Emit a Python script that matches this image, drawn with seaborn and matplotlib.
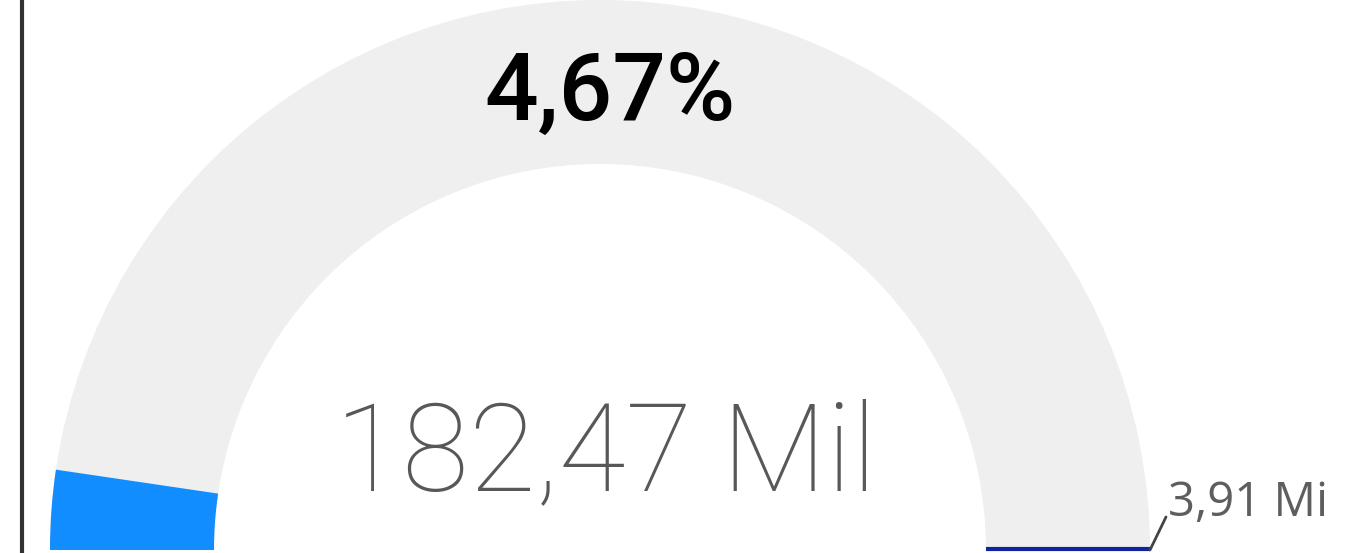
import numpy as np
import matplotlib.pyplot as plt
import seaborn as sns
from matplotlib.patches import Wedge

# Gauge data (value, target, scale)
gauge_min = 0
gauge_max = 3910000
value = 182470
target = 3910000

sns.set_theme(style="white")
plt.rcParams['font.family'] = ['Roboto', 'DejaVu Sans']

def fmt(num, div, suffix):
    return f"{num/div:.2f}".replace('.', ',') + suffix

fig = plt.figure(figsize=(13.54, 5.53), dpi=100)
ax = fig.add_axes([0, 0, 1, 1])
ax.set_xlim(0, 1354)
ax.set_ylim(0, 553)
ax.axis('off')

# gauge geometry in pixels
cx, cy = 600, 3
r_out, r_in = 550, 386

def to_angle(v):
    return 180 - 180 * (v - gauge_min) / (gauge_max - gauge_min)

# background arc and filled value
ax.add_patch(Wedge((cx, cy), r_out, 0, 180, width=r_out - r_in,
                   facecolor='#efefef', edgecolor='none'))
ax.add_patch(Wedge((cx, cy), r_out, to_angle(value), 180, width=r_out - r_in,
                   facecolor='#118dff', edgecolor='none'))

# target marker
t = np.deg2rad(to_angle(target))
ax.plot([cx + r_in * np.cos(t), cx + r_out * np.cos(t)],
        [cy + 1 + r_in * np.sin(t), cy + 1 + r_out * np.sin(t)],
        color='#12239e', lw=3, solid_capstyle='butt')

# leader line + target label
x0, y0 = cx + r_out * np.cos(t), cy + r_out * np.sin(t)
ax.plot([x0, x0 + 16], [y0, y0 + 33], color='#444444', lw=2)
ax.text(x0 + 18, y0 + 34, fmt(target, 1e6, ' Mi'), fontsize=34,
        family=['Open Sans', 'DejaVu Sans'], color='#605e5c',
        ha='left', va='baseline')

# percentage label
pct = value / gauge_max * 100
ax.text(610, 433, f"{pct:.2f}".replace('.', ',') + '%', fontsize=68,
        fontweight='medium', color='#000000', ha='center', va='baseline')

# main value
ax.text(606, 63, fmt(value, 1000, ' Mil'), fontsize=88,
        fontweight='light', color='#5a5856', ha='center', va='baseline')

# left border of the visual
ax.plot([22, 22], [0, 553], color='#333333', lw=3)

plt.savefig('out.png', dpi=100)
